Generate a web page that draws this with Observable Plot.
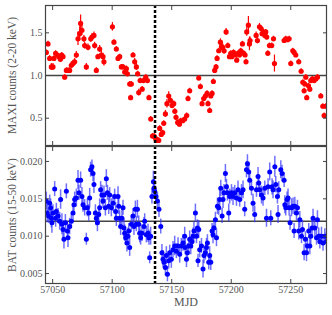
<!DOCTYPE html>
<html><head><meta charset="utf-8">
<script src="https://cdn.jsdelivr.net/npm/d3@7"></script>
<script src="https://cdn.jsdelivr.net/npm/@observablehq/plot@0.6"></script>
<style>body{margin:0;background:#fff}#c{width:332px}svg{display:block}</style>
</head><body><div id="c"></div>
<script>
const maxiMJD = [
57044.7,57046.1,57047.5,57048.9,57050.3,57051.1,57052.5,57054.0,57055.3,57056.5,
57057.6,57058.7,57060.1,57061.5,57062.9,57064.3,57065.7,57067.1,57068.5,57069.9,
57071.3,57072.7,57073.5,57074.6,57076.3,57076.9,57078.3,57079.7,57082.0,57083.0,
57084.7,57085.3,57086.7,57088.0,57089.5,57090.9,57092.3,57093.1,57100.2,57101.5,
57103.5,57104.9,57106.3,57107.7,57109.1,57110.5,57111.9,57112.8,57114.7,57115.5,
57116.1,57117.5,57118.9,57120.3,57121.4,57122.3,57123.5,57125.2,57126.2,57128.2,
57129.6,57130.9,57132.4,57133.8,57135.2,57136.6,57138.0,57139.1,57139.9,57141.2,
57142.4,57143.3,57144.7,57146.0,57147.5,57148.9,57150.3,57151.7,57152.6,57153.6,
57155.0,57156.5,57157.5,57159.2,57160.9,57162.6,57163.7,57165.1,57172.7,57174.1,
57175.5,57176.9,57178.3,57179.7,57180.5,57181.9,57182.8,57183.9,57185.0,57186.1,
57187.2,57188.1,57189.5,57190.9,57191.8,57192.9,57194.0,57195.7,57197.1,57198.5,
57199.6,57200.4,57201.9,57203.0,57204.6,57205.7,57206.9,57208.0,57209.4,57210.5,
57211.6,57212.4,57213.0,57214.4,57215.3,57215.8,57220.9,57222.0,57223.7,57225.1,
57225.9,57227.0,57228.2,57229.0,57229.8,57230.7,57232.1,57234.0,57235.5,57236.3,
57244.4,57245.8,57247.2,57248.6,57250.0,57251.7,57252.8,57254.2,57256.7,57258.7,
57260.1,57261.2,57261.8,57262.6,57263.4,57264.9,57266.0,57266.8,57268.2,57269.6,
57271.0,57272.4,57275.2,57276.9,57278.0,57279.4];
const maxiRate = [
1.27,1.37,1.20,1.10,1.10,1.20,1.26,1.24,1.22,1.19,
1.24,1.22,0.98,1.06,1.06,1.06,1.12,1.14,1.16,1.24,
1.43,1.49,1.61,1.53,1.43,1.35,1.10,1.33,1.43,1.45,
1.47,1.35,1.06,1.22,1.31,1.24,1.22,1.16,1.57,1.39,
1.31,1.20,1.22,1.10,1.10,1.04,1.08,1.02,0.90,0.74,
0.90,1.24,1.16,1.10,1.02,0.80,0.94,0.84,0.94,0.98,
0.94,0.74,0.49,0.29,0.29,0.26,0.24,0.24,0.38,0.31,
0.33,0.44,0.55,0.67,0.76,0.71,0.65,0.67,0.58,0.51,
0.45,0.43,0.47,0.47,0.49,0.53,0.73,0.82,0.97,0.87,
0.67,0.73,0.76,0.79,0.67,0.59,0.76,0.79,0.93,1.06,
1.10,1.20,1.29,1.39,1.34,1.33,1.29,1.51,1.35,1.22,
1.26,1.22,1.27,1.24,1.18,1.26,1.24,1.29,1.37,1.26,
1.24,1.16,1.51,1.59,1.37,1.41,1.47,1.41,1.57,1.55,
1.49,1.51,1.47,1.51,1.45,1.26,1.35,1.35,1.43,1.14,
1.41,1.43,1.42,1.43,1.14,1.29,1.27,1.24,1.16,1.05,
0.92,0.82,0.90,0.98,0.74,0.88,0.84,0.94,0.96,0.94,
0.96,0.98,0.76,0.64,0.53,0.64];
const maxiErr = [
.03,.03,.03,.04,.04,.03,.03,.03,.03,.03,
.03,.03,.03,.03,.03,.03,.04,.04,.04,.04,
.08,.08,.10,.06,.04,.04,.04,.04,.04,.04,
.04,.04,.03,.03,.04,.04,.04,.05,.05,.03,
.03,.03,.03,.03,.03,.03,.03,.03,.03,.03,
.03,.03,.04,.04,.03,.04,.03,.03,.03,.03,
.03,.03,.03,.03,.03,.03,.03,.03,.03,.03,
.03,.03,.04,.05,.05,.04,.04,.03,.03,.03,
.03,.03,.03,.03,.03,.03,.03,.03,.03,.03,
.03,.03,.03,.03,.03,.03,.03,.03,.03,.03,
.03,.03,.03,.04,.05,.04,.04,.04,.03,.03,
.03,.03,.03,.03,.03,.03,.03,.03,.03,.03,
.03,.03,.05,.10,.08,.04,.04,.04,.04,.03,
.03,.03,.03,.03,.03,.03,.03,.03,.03,.10,
.03,.03,.03,.03,.03,.03,.03,.03,.03,.03,
.03,.03,.03,.03,.03,.03,.03,.03,.03,.03,
.03,.03,.03,.03,.03,.03];

const batMJD = [
57044.7,57045.5,57046.6,57047.5,57048.3,57048.9,57049.4,57050.3,57051.7,57052.5,
57053.1,57054.5,57055.9,57056.7,57057.8,57058.7,57059.5,57060.7,57061.5,57062.4,
57062.9,57064.3,57065.7,57067.1,57067.9,57068.5,57069.9,57071.3,57072.1,57073.5,
57074.6,57075.5,57076.9,57078.3,57079.2,57080.3,57081.1,57081.9,57083.0,57083.9,
57084.7,57085.9,57086.7,57087.6,57088.7,57089.5,57090.3,57091.4,57092.3,57093.1,
57094.3,57095.1,57096.0,57097.1,57097.9,57099.3,57100.7,57102.1,57102.9,57103.5,
57104.9,57105.5,57106.3,57107.1,57108.2,57109.1,57109.9,57110.5,57111.3,57112.4,
57113.3,57113.9,57114.7,57116.1,57117.5,57118.3,57119.5,57120.3,57121.2,57122.3,
57123.1,57123.9,57125.0,57126.7,57127.3,57128.7,57130.1,57130.9,57131.5,57132.3,
57133.4,57134.6,57135.1,57135.7,57136.8,57138.0,57139.3,57140.8,57141.8,57142.7,
57143.5,57144.7,57145.5,57146.4,57147.5,57148.3,57149.7,57151.1,57152.5,57153.9,
57155.3,57156.7,57158.1,57159.5,57160.9,57161.3,57162.4,57163.2,57164.3,57165.1,
57166.0,57167.1,57167.9,57168.7,57169.9,57170.8,57171.6,57172.1,57172.7,57173.5,
57175.0,57176.3,57177.1,57178.3,57179.2,57180.0,57181.1,57181.9,57182.8,57183.9,
57184.7,57185.5,57186.7,57187.6,57188.4,57189.5,57190.3,57191.2,57192.3,57193.1,
57193.9,57195.1,57196.0,57196.8,57197.9,57198.7,57200.2,57201.5,57202.9,57204.4,
57205.7,57207.1,57208.6,57209.9,57211.3,57212.8,57213.6,57214.7,57215.5,57217.0,
57218.3,57219.7,57221.2,57222.5,57223.1,57223.9,57225.4,57226.7,57228.2,57229.6,
57230.9,57232.3,57233.2,57234.3,57235.1,57236.6,57237.4,57238.8,57239.3,57239.9,
57241.6,57242.7,57244.4,57245.0,57245.8,57246.9,57247.7,57248.6,57249.4,57250.6,
57251.9,57252.8,57253.4,57254.8,57255.6,57256.7,57257.6,57259.0,57259.8,57261.2,
57262.3,57263.2,57264.0,57265.1,57266.0,57266.8,57267.9,57268.7,57270.2,57271.6,
57272.4,57273.5,57274.4,57275.8,57277.1,57278.6,57280.0];
const batRate = [
0.0147,0.0131,0.0127,0.0144,0.0138,0.0124,0.0118,0.0131,0.0163,0.0124,
0.0133,0.0127,0.0120,0.0149,0.0116,0.0109,0.0096,0.0118,0.0160,0.0107,
0.0098,0.0113,0.0120,0.0131,0.0142,0.0149,0.0151,0.0175,0.0158,0.0175,
0.0153,0.0142,0.0138,0.0096,0.0138,0.0131,0.0151,0.0189,0.0193,0.0184,
0.0169,0.0131,0.0124,0.0118,0.0129,0.0138,0.0162,0.0155,0.0147,0.0155,
0.0138,0.0177,0.0158,0.0140,0.0155,0.0138,0.0144,0.0153,0.0133,0.0124,
0.0153,0.0140,0.0124,0.0113,0.0124,0.0138,0.0111,0.0104,0.0098,0.0091,
0.0100,0.0107,0.0085,0.0116,0.0127,0.0113,0.0136,0.0116,0.0136,0.0116,
0.0104,0.0098,0.0104,0.0113,0.0120,0.0102,0.0104,0.0098,0.0071,0.0100,
0.0153,0.0173,0.0164,0.0160,0.0153,0.0147,0.0136,0.0113,0.0078,0.0069,
0.0065,0.0058,0.0074,0.0049,0.0067,0.0078,0.0069,0.0082,0.0087,0.0080,
0.0087,0.0076,0.0087,0.0091,0.0100,0.0085,0.0069,0.0078,0.0087,0.0096,
0.0087,0.0093,0.0100,0.0107,0.0131,0.0100,0.0111,0.0067,0.0109,0.0082,
0.0087,0.0056,0.0074,0.0078,0.0085,0.0091,0.0065,0.0074,0.0065,0.0107,
0.0102,0.0111,0.0122,0.0098,0.0140,0.0138,0.0149,0.0164,0.0127,0.0149,
0.0158,0.0184,0.0166,0.0158,0.0131,0.0153,0.0158,0.0153,0.0158,0.0151,
0.0162,0.0149,0.0158,0.0162,0.0136,0.0189,0.0197,0.0186,0.0175,0.0164,
0.0144,0.0129,0.0162,0.0180,0.0171,0.0162,0.0155,0.0151,0.0164,0.0124,
0.0166,0.0186,0.0124,0.0166,0.0162,0.0193,0.0169,0.0153,0.0129,0.0162,
0.0189,0.0184,0.0175,0.0142,0.0138,0.0149,0.0151,0.0138,0.0118,0.0138,
0.0140,0.0107,0.0140,0.0131,0.0138,0.0107,0.0122,0.0100,0.0109,0.0078,
0.0096,0.0078,0.0087,0.0107,0.0087,0.0100,0.0111,0.0124,0.0111,0.0098,
0.0122,0.0100,0.0093,0.0100,0.0091,0.0100,0.0093];
const batErr = [
.0012,.0013,.0010,.0011,.0012,.0013,.0014,.0011,.0010,.0012,
.0011,.0010,.0012,.0013,.0014,.0012,.0013,.0011,.0010,.0012,
.0013,.0011,.0010,.0012,.0011,.0010,.0012,.0013,.0010,.0011,
.0012,.0010,.0011,.0008,.0012,.0011,.0013,.0010,.0009,.0011,
.0012,.0011,.0010,.0012,.0011,.0012,.0011,.0013,.0010,.0012,
.0011,.0012,.0010,.0011,.0010,.0012,.0011,.0010,.0012,.0011,
.0013,.0011,.0010,.0012,.0011,.0010,.0012,.0011,.0010,.0012,
.0011,.0010,.0012,.0011,.0010,.0012,.0011,.0010,.0012,.0011,
.0013,.0010,.0011,.0012,.0010,.0011,.0012,.0010,.0008,.0012,
.0010,.0014,.0012,.0011,.0010,.0012,.0011,.0010,.0011,.0012,
.0010,.0011,.0012,.0010,.0011,.0010,.0012,.0011,.0013,.0010,
.0011,.0012,.0010,.0011,.0012,.0010,.0011,.0012,.0010,.0011,
.0012,.0010,.0011,.0012,.0012,.0010,.0011,.0009,.0012,.0011,
.0010,.0012,.0011,.0010,.0012,.0011,.0010,.0012,.0011,.0010,
.0012,.0011,.0010,.0012,.0011,.0010,.0012,.0011,.0010,.0012,
.0011,.0012,.0010,.0011,.0012,.0010,.0011,.0012,.0010,.0011,
.0012,.0010,.0011,.0012,.0010,.0011,.0012,.0013,.0011,.0010,
.0012,.0011,.0010,.0012,.0011,.0010,.0012,.0011,.0010,.0012,
.0011,.0012,.0010,.0011,.0012,.0014,.0011,.0010,.0012,.0011,
.0012,.0011,.0010,.0012,.0011,.0010,.0012,.0011,.0010,.0012,
.0011,.0010,.0012,.0011,.0010,.0012,.0011,.0010,.0012,.0011,
.0010,.0012,.0011,.0010,.0012,.0011,.0010,.0012,.0011,.0010,
.0012,.0011,.0010,.0012,.0011,.0010,.0012];

const xTicks = [57050, 57100, 57150, 57200, 57250];
const maxiTicks = [0.5, 1.0, 1.5];
const batTicks = [0.005, 0.010, 0.015, 0.020];
const dipMJD = [57136];
const maxiMean = [1.0];
const batMean = [0.012];
const maxiLabel = "MAXI counts (2-20 keV)";
const batLabel = "BAT counts (15-50 keV)";
const xLabel = "MJD";

const maxi = d3.range(Math.min(maxiMJD.length, maxiRate.length, maxiErr.length))
  .map(i => ({mjd: maxiMJD[i], rate: maxiRate[i], err: maxiErr[i]}));
const bat = d3.range(Math.min(batMJD.length, batRate.length, batErr.length))
  .map(i => ({mjd: batMJD[i], rate: batRate[i], err: batErr[i]}));

const FONT = "'Liberation Serif', 'DejaVu Serif', serif";
const plotStyle = {fontFamily: FONT, fontSize: "10px", color: "#555", background: "white", overflow: "visible"};
const frameColor = "#444";

function axes(yTicks, yFmt, showX) {
  return [
    Plot.axisX(xTicks, {anchor: "bottom", tickSize: -4, tickPadding: 6, stroke: frameColor,
      tickFormat: showX ? (d => String(d)) : (() => ""), label: null}),
    Plot.axisX(xTicks, {anchor: "top", tickSize: -4, stroke: frameColor, tickFormat: () => "", label: null}),
    Plot.axisY(yTicks, {anchor: "left", tickSize: -4, tickPadding: 7, stroke: frameColor, tickFormat: yFmt, label: null}),
    Plot.axisY(yTicks, {anchor: "right", tickSize: -4, stroke: frameColor, tickFormat: () => "", label: null})
  ];
}

const topPlot = Plot.plot({
  width: 332, height: 146, marginTop: 5, marginBottom: 1, marginLeft: 45, marginRight: 6,
  style: plotStyle,
  x: {domain: [57044, 57280]},
  y: {domain: [0.18, 1.82]},
  marks: [
    Plot.ruleY(maxiMean, {stroke: "#444", strokeWidth: 1.5}),
    Plot.ruleX(maxi, {x: "mjd", y1: d => d.rate - d.err, y2: d => d.rate + d.err, stroke: "red", strokeWidth: 1.2, clip: true}),
    Plot.dot(maxi, {x: "mjd", y: "rate", r: 2.6, fill: "red", stroke: "none", clip: true}),
    Plot.ruleX(dipMJD, {stroke: "black", strokeWidth: 2.5, strokeDasharray: "3,2"}),
    Plot.frame({stroke: frameColor, strokeWidth: 1.2}),
    ...axes(maxiTicks, d3.format(".1f"), false),
    Plot.text([maxiLabel], {frameAnchor: "left", textAnchor: "middle", text: d => d, rotate: -90, dx: -33, fontSize: 11.5, fill: "#555"})
  ]
});

const bottomPlot = Plot.plot({
  width: 332, height: 169, marginTop: 0, marginBottom: 32, marginLeft: 45, marginRight: 6,
  style: plotStyle,
  x: {domain: [57044, 57280]},
  y: {domain: [0.00367, 0.0220]},
  marks: [
    Plot.ruleY(batMean, {stroke: "#444", strokeWidth: 1.5}),
    Plot.ruleX(bat, {x: "mjd", y1: d => d.rate - d.err, y2: d => d.rate + d.err, stroke: "#3333ff", strokeOpacity: 0.7, strokeWidth: 1.5, clip: true}),
    Plot.dot(bat, {x: "mjd", y: "rate", r: 2.5, fill: "blue", stroke: "none", clip: true}),
    Plot.ruleX(dipMJD, {stroke: "black", strokeWidth: 2.5, strokeDasharray: "3,2"}),
    Plot.frame({stroke: frameColor, strokeWidth: 1.2}),
    ...axes(batTicks, d3.format(".3f"), true),
    Plot.text([batLabel], {frameAnchor: "left", textAnchor: "middle", text: d => d, rotate: -90, dx: -33, fontSize: 11.5, fill: "#555"}),
    Plot.text([xLabel], {frameAnchor: "bottom", text: d => d, dy: 14, lineAnchor: "top", fontSize: 12, fill: "#555"})
  ]
});

document.getElementById("c").append(topPlot, bottomPlot);
</script>
</body></html>
